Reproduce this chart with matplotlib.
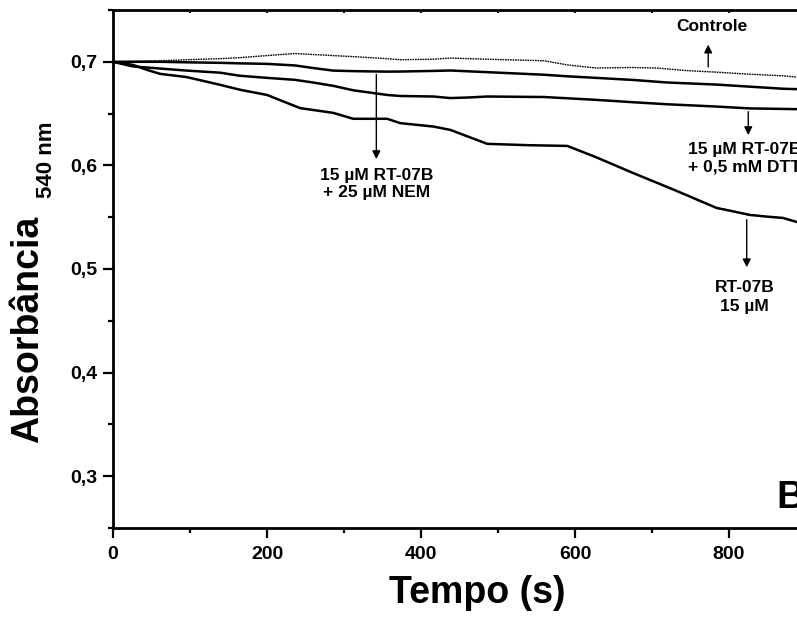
import numpy as np
import matplotlib.pyplot as plt
from matplotlib.ticker import MultipleLocator, FuncFormatter

plt.rcParams['font.family'] = ['Liberation Sans', 'DejaVu Sans']
plt.rcParams['font.weight'] = 'bold'

# time (s) and absorbance at 540 nm
t_ctrl = [0, 26, 61, 96, 139, 165, 200, 236, 286, 312, 356, 373, 416, 438, 486, 560, 590, 627, 675, 706, 745, 784, 827, 870, 888]
a_ctrl = [0.700, 0.7005, 0.701, 0.702, 0.703, 0.704, 0.706, 0.708, 0.706, 0.705, 0.703, 0.702, 0.7025, 0.7036, 0.7025, 0.701, 0.697, 0.694, 0.6945, 0.694, 0.6915, 0.690, 0.688, 0.6865, 0.6852]

t_nem = [0, 26, 61, 96, 139, 165, 200, 236, 260, 286, 312, 356, 373, 416, 438, 486, 560, 590, 627, 675, 720, 784, 827, 870, 888]
a_nem = [0.700, 0.700, 0.700, 0.6995, 0.699, 0.6985, 0.698, 0.6965, 0.694, 0.6915, 0.691, 0.6905, 0.6906, 0.6912, 0.6916, 0.690, 0.6875, 0.686, 0.6845, 0.6825, 0.680, 0.678, 0.676, 0.674, 0.6736]

t_dtt = [0, 26, 61, 96, 139, 165, 200, 236, 260, 286, 312, 356, 373, 416, 438, 460, 486, 560, 627, 675, 720, 784, 827, 870, 888]
a_dtt = [0.700, 0.6955, 0.6935, 0.6915, 0.6895, 0.6865, 0.6845, 0.6826, 0.680, 0.6768, 0.6725, 0.668, 0.667, 0.6665, 0.665, 0.6655, 0.6665, 0.666, 0.6633, 0.661, 0.659, 0.6568, 0.655, 0.6545, 0.6543]

t_rt = [0, 26, 45, 61, 96, 139, 165, 200, 243, 286, 312, 356, 373, 416, 438, 486, 540, 590, 627, 675, 730, 784, 800, 827, 850, 870, 888]
a_rt = [0.700, 0.697, 0.692, 0.6884, 0.6852, 0.6778, 0.673, 0.668, 0.6553, 0.6507, 0.645, 0.645, 0.6408, 0.6375, 0.6343, 0.6208, 0.6195, 0.6188, 0.608, 0.5928, 0.576, 0.5589, 0.5565, 0.5522, 0.5505, 0.5493, 0.5454]

x_ticks = [0, 200, 400, 600, 800]
y_ticks = [0.3, 0.4, 0.5, 0.6, 0.7]

fig = plt.figure(figsize=(7.97, 6.22), dpi=100)
ax = fig.add_axes([113 / 797, 1 - 528 / 622, 770 / 797, 518 / 622])

ax.plot(t_ctrl, a_ctrl, color='black', lw=1.0, ls=(0, (1.2, 0.6)))
ax.plot(t_nem, a_nem, color='black', lw=1.8)
ax.plot(t_dtt, a_dtt, color='black', lw=1.8)
ax.plot(t_rt, a_rt, color='black', lw=1.8)

ax.set_xlim(0, 1000)
ax.set_ylim(0.25, 0.75)
ax.set_xticks(x_ticks)
ax.xaxis.set_minor_locator(MultipleLocator(100))
ax.set_yticks(y_ticks)
ax.yaxis.set_minor_locator(MultipleLocator(0.05))
ax.yaxis.set_major_formatter(FuncFormatter(lambda v, p: f"{v:.1f}".replace('.', ',')))

for s in ['left', 'bottom', 'top']:
    ax.spines[s].set_linewidth(2.0)
ax.spines['right'].set_visible(False)
ax.tick_params(which='major', direction='out', length=7, width=1.6, labelsize=14, pad=4)
ax.tick_params(axis='x', which='major', pad=6)
ax.tick_params(which='minor', direction='out', length=3.5, width=1.6)
for lab in ax.get_xticklabels() + ax.get_yticklabels():
    lab.set_fontweight('bold')

# small inward ticks on the top frame
top = ax.secondary_xaxis('top')
top.set_xticks(x_ticks)
top.xaxis.set_minor_locator(MultipleLocator(100))
top.tick_params(which='both', direction='in', length=2.5, width=1.4, labeltop=False)

ax.set_xlabel('Tempo (s)', fontsize=27, fontweight='bold')
ax.xaxis.set_label_coords((477 - 113) / 770, -0.09)
fig.text(28 / 797, 1 - 329 / 622, 'Absorbância', rotation=90, ha='center', va='center',
         fontsize=27, fontweight='bold')
fig.text(46 / 797, 1 - 160 / 622, '540 nm', rotation=90, ha='center', va='center',
         fontsize=16, fontweight='bold')

arrow = dict(arrowstyle='-|>', color='black', lw=1.0, mutation_scale=12)
ax.annotate('', xy=(773, 0.7193), xytext=(773, 0.6923), arrowprops=arrow)
ax.text(778, 0.734, 'Controle', ha='center', va='center', fontsize=12.5, fontweight='bold')

ax.annotate('', xy=(342, 0.6034), xytext=(342, 0.6905), arrowprops=arrow)
ax.text(342, 0.582, '15 µM RT-07B\n+ 25 µM NEM', ha='center', va='center', fontsize=12.5,
        fontweight='bold', linespacing=1.2)

ax.annotate('', xy=(825, 0.6266), xytext=(825, 0.6546), arrowprops=arrow)
ax.text(820, 0.6068, '15 µM RT-07B\n+ 0,5 mM DTT', ha='center', va='center', fontsize=12.5,
        fontweight='bold', linespacing=1.2)

ax.annotate('', xy=(823, 0.499), xytext=(823, 0.5502), arrowprops=arrow)
ax.text(820, 0.473, 'RT-07B\n15 µM', ha='center', va='center', fontsize=12.5,
        fontweight='bold', linespacing=1.3)

ax.text(862, 0.2787, 'B', ha='left', va='center', fontsize=28, fontweight='bold')

fig.savefig('out.png', dpi=100)
